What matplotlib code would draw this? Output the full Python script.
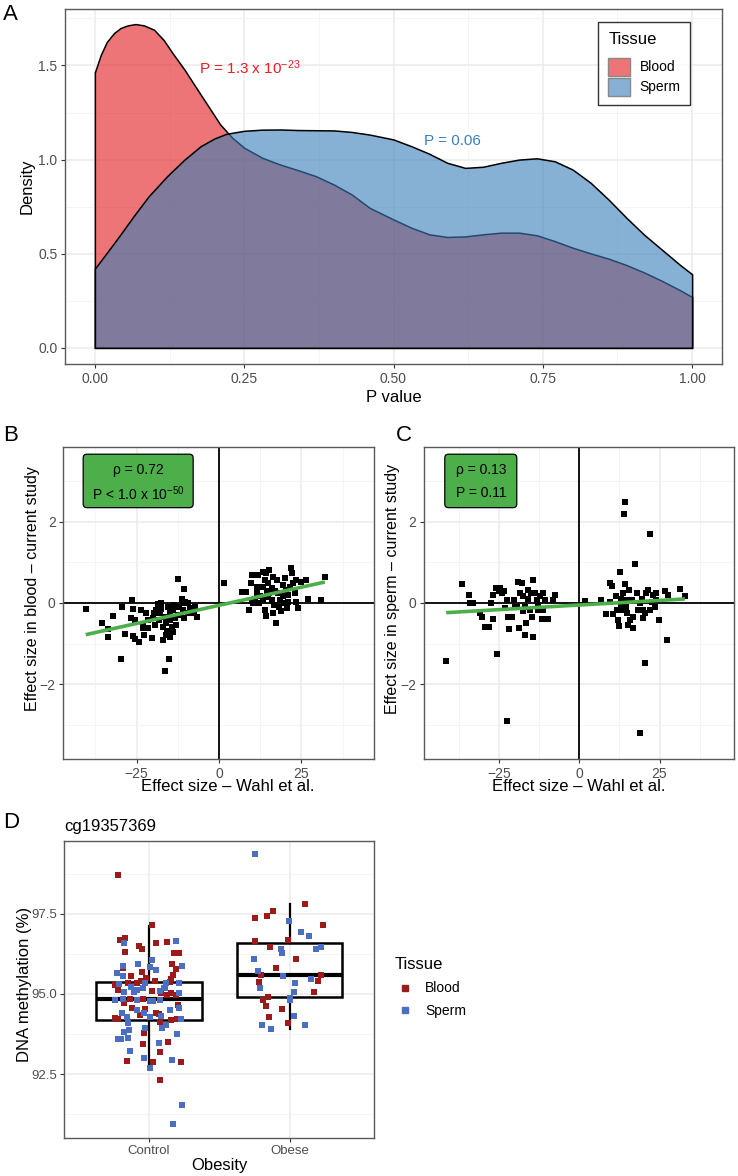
import numpy as np
import matplotlib
matplotlib.use("Agg")
import matplotlib.pyplot as plt
from matplotlib.patches import Patch, FancyBboxPatch
from matplotlib.lines import Line2D
from matplotlib.ticker import MultipleLocator, FixedLocator

plt.rcParams['font.family'] = ['Liberation Sans', 'DejaVu Sans']
plt.rcParams['mathtext.fontset'] = 'custom'
plt.rcParams['mathtext.rm'] = 'Liberation Sans'
plt.rcParams['mathtext.it'] = 'Liberation Sans:italic'
plt.rcParams['mathtext.default'] = 'regular'

# ---------------- Panel A: density curves ----------------
blood_x = [0.00, 0.01, 0.02, 0.032, 0.043, 0.055, 0.068, 0.082, 0.099, 0.115, 0.13, 0.15,
           0.17, 0.19, 0.21, 0.23, 0.25, 0.28, 0.31, 0.34, 0.37, 0.40, 0.43, 0.46, 0.50,
           0.53, 0.56, 0.59, 0.62, 0.65, 0.68, 0.71, 0.74, 0.77, 0.80, 0.83, 0.86, 0.89,
           0.92, 0.95, 0.98, 1.00]
blood_density = [1.463, 1.557, 1.625, 1.672, 1.699, 1.713, 1.72, 1.713, 1.69, 1.636, 1.566,
                 1.478, 1.38, 1.283, 1.186, 1.116, 1.063, 1.01, 0.974, 0.944, 0.912, 0.868,
                 0.815, 0.744, 0.682, 0.638, 0.603, 0.589, 0.592, 0.603, 0.612, 0.612, 0.598,
                 0.567, 0.532, 0.502, 0.474, 0.44, 0.40, 0.355, 0.306, 0.27]
sperm_x = [0.00, 0.02, 0.04, 0.065, 0.09, 0.121, 0.15, 0.177, 0.20, 0.22, 0.25, 0.28, 0.31,
           0.34, 0.37, 0.40, 0.43, 0.46, 0.50, 0.53, 0.56, 0.59, 0.62, 0.65, 0.68, 0.71,
           0.74, 0.77, 0.80, 0.83, 0.86, 0.89, 0.92, 0.95, 0.98, 1.00]
sperm_density = [0.421, 0.505, 0.59, 0.70, 0.805, 0.912, 1.0, 1.071, 1.112, 1.137, 1.153,
                 1.159, 1.16, 1.157, 1.156, 1.155, 1.147, 1.133, 1.107, 1.071, 1.031, 0.983,
                 0.956, 0.962, 0.983, 1.0, 1.007, 0.991, 0.947, 0.877, 0.788, 0.691, 0.60,
                 0.52, 0.44, 0.391]
tissues = ['Blood', 'Sperm']
pval_blood_label = r'P = 1.3 x 10$^{-23}$'
pval_sperm_label = 'P = 0.06'

# ---------------- Panel B: blood effect sizes ----------------
B_x = [-40.4, -35.6, -32.2, -33.5, -33.5, -29.7, -29.4, -26.5, -26.8, -28.5, -26.0, -25.5, -26.0,
       -25.5, -24.2, -23.5, -22.2, -22.9, -22.6, -21.6, -20.4, -21.5, -20.0, -19.8, -19.0, -18.5,
       -17.7, -18.0, -18.2, -16.9, -16.1, -16.4, -15.4, -14.8, -14.8, -14.3, -14.8, -13.8, -13.3,
       -13.1, -15.1, -16.4, -12.3, -10.6, -11.3, -11.0, -10.3, -11.0, -10.6, -8.8, -7.3, -6.8,
       -7.6, -9.3, -17.0, -12.5, -13.5, -15.8, -17.5, -12.0, -9.5, -14.0, -19.5, -23.0, -16.0,
       1.6, 7.1, 8.2, 9.9, 9.6, 9.2, 9.9, 10.4, 11.9, 11.6, 11.4, 12.4, 13.4, 14.2, 15.3, 13.9,
       14.9, 13.4, 13.4, 13.9, 14.4, 15.3, 16.0, 16.0, 16.3, 16.5, 17.3, 17.5, 18.0, 18.3, 18.5,
       19.3, 19.5, 20.0, 20.3, 20.5, 21.0, 21.5, 21.9, 22.1, 22.5, 23.0, 23.5, 24.0, 23.3, 25.0,
       26.4, 27.1, 30.8, 32.1, 12.0, 15.0, 17.0, 18.8, 19.8, 21.0, 11.0, 16.8, 14.5]
B_y = [-0.14, -0.48, -0.33, -0.65, -0.84, -1.37, -0.11, 0.07, -0.36, -0.75, -0.14, -0.42, -0.81,
       -0.89, -0.97, -0.17, -0.25, -0.62, -0.79, -0.62, -0.85, -0.42, -0.38, -0.25, -0.17, -0.02,
       0.01, -0.25, -0.42, -0.58, -0.79, -0.34, -0.11, -0.25, -0.42, -0.58, -0.83, -0.17, -0.38,
       -0.54, -1.37, -1.66, 0.59, 0.34, 0.09, 0.01, 0.03, -0.16, -0.38, -0.13, -0.09, -0.35,
       -0.25, -0.25, -0.91, -0.30, -0.05, -0.70, -0.15, -0.10, 0.0, -0.72, -0.55, -0.55, -0.50,
       0.48, 0.26, 0.28, 0.69, 0.50, -0.17, 0.06, -0.01, 0.69, 0.40, 0.24, 0.16, 0.77, 0.73, 0.80,
       0.57, 0.48, 0.40, 0.07, -0.16, -0.32, 0.24, 0.36, 0.07, 0.65, -0.25, -0.50, 0.57, 0.24,
       -0.09, 0.07, 0.44, 0.16, 0.61, 0.32, -0.13, 0.03, 0.40, 0.85, 0.73, 0.48, 0.24, 0.03, -0.13,
       0.57, 0.52, 0.57, 0.11, 0.07, 0.65, 0.0, 0.15, 0.30, -0.20, 0.0, 0.20, 0.10, -0.05, 0.30]
B_rho_label = 'ρ = 0.72'
B_p_label = r'P < 1.0 x 10$^{-50}$'

# ---------------- Panel C: sperm effect sizes ----------------
C_x = [-41.5, -36.7, -34.5, -34.1, -33.0, -30.9, -30.4, -29.4, -28.0, -26.8, -26.8, -25.9, -24.7,
       -24.2, -25.8, -22.6, -23.2, -22.4, -22.1, -21.1, -21.8, -20.5, -19.5, -19.0, -18.0, -18.5,
       -18.7, -17.4, -16.9, -16.6, -16.9, -15.9, -15.4, -14.3, -14.3, -14.8, -13.8, -13.3, -12.8,
       -12.3, -11.7, -11.2, -10.7, -9.7, -8.1, -7.6, -15.0, -16.0, -11.2, -25.0, -20.0, -17.5,
       -13.0, -27.5, -23.5,
       1.8, 6.9, 8.2, 9.6, 10.1, 9.6, 10.6, 11.4, 12.1, 12.4, 12.7, 13.7, 14.2, 14.2, 14.0, 14.9,
       14.5, 15.0, 15.6, 15.8, 16.3, 16.8, 17.3, 17.9, 18.4, 18.9, 19.4, 19.9, 20.4, 20.9, 21.5,
       22.0, 22.0, 22.5, 23.1, 23.9, 24.7, 26.7, 27.2, 27.7, 31.4, 32.9, 13.7, 15.3, 16.8, 18.9,
       19.7, 20.4, 23.5, 24.0, 12.9, 13.1, 11.9]
C_y = [-1.43, 0.47, 0.20, -0.01, 0.0, -0.25, -0.34, -0.58, -0.58, -0.40, 0.20, 0.36, 0.36,
       0.24, -1.25, -2.89, -0.13, 0.07, -0.34, -0.35, -0.65, 0.07, -0.09, 0.51, 0.50, 0.24,
       -0.62, 0.16, -0.09, -0.50, -0.79, 0.11, -0.17, 0.57, -0.83, -0.34, 0.24, 0.07, -0.17,
       0.16, -0.40, 0.24, 0.07, -0.40, 0.07, 0.20, 0.24, 0.32, -0.17, 0.30, -0.10, -0.20,
       -0.05, 0.0, 0.30,
       0.06, 0.07, -0.28, 0.50, 0.42, 0.03, -0.27, 0.16, -0.42, -0.57, 0.75, 0.24, 0.47, 2.47,
       2.19, 0.07, -0.09, -0.25, 0.32, -0.42, 0.07, -0.62, 0.96, 0.24, -0.17, -3.20, 0.11, -0.38,
       -1.48, 0.24, 0.32, 1.70, -0.17, 0.03, 0.20, 0.24, -0.42, 0.30, -0.91, 0.20, 0.34, 0.17,
       -0.17, -0.54, -0.34, 0.0, -0.17, -0.25, -0.09, 0.07, 0.11, -0.09, -0.17]
C_rho_label = 'ρ = 0.13'
C_p_label = 'P = 0.11'

# ---------------- Panel D: cg19357369 methylation ----------------
groups = ['Control', 'Obese']
ctrl_blood_dx = [-0.222, 0.026, -0.206, -0.168, -0.166, -0.069, -0.045, 0.05, 0.132, 0.177, 0.213,
                 0.165, 0.196, 0.175, 0.161, 0.149, -0.123, -0.182, -0.047, -0.241, -0.217, -0.149,
                 -0.087, -0.052, -0.017, 0.047, 0.085, 0.132, 0.161, 0.194, -0.135, -0.04, 0.026,
                 -0.177, -0.116, -0.061, -0.241, -0.217, -0.024, -0.031, 0.052, 0.073, 0.083,
                 0.156, 0.208, 0.203, -0.04, 0.137, 0.08, -0.156, 0.031, 0.232, 0.078]
ctrl_blood_y = [98.73, 97.15, 96.69, 96.76, 96.31, 96.51, 96.40, 96.59, 96.64, 96.29, 96.29,
                95.93, 95.78, 95.59, 95.47, 95.39, 95.56, 95.80, 95.70, 95.28, 95.13, 95.35,
                95.35, 95.41, 95.49, 95.42, 95.02, 94.97, 95.02, 94.97, 94.83, 94.83, 95.10,
                94.71, 94.55, 94.34, 94.26, 94.23, 94.52, 93.77, 94.40, 94.38, 94.14,
                94.19, 94.66, 94.21, 93.44, 93.51, 93.20, 92.91, 92.86, 92.86, 92.31]
ctrl_sperm_dx = [-0.175, 0.196, -0.182, -0.076, 0.026, 0.054, 0.012, 0.236, -0.225, -0.182, -0.213,
                 -0.173, -0.125, -0.104, -0.087, -0.04, -0.026, -0.241, -0.182, -0.083, 0.012,
                 0.031, 0.083, 0.106, 0.125, 0.215, 0.215, 0.078, 0.113, -0.189, -0.154, -0.147,
                 -0.142, -0.177, -0.217, -0.194, -0.151, -0.087, -0.033, -0.024, 0.012, 0.09,
                 0.097, 0.12, 0.149, 0.213, 0.232, 0.203, -0.13, -0.035, 0.012, 0.073, 0.165,
                 0.236, 0.173]
ctrl_sperm_y = [96.60, 96.66, 95.88, 95.93, 96.07, 95.75, 95.85, 95.89, 95.67, 95.56, 95.31,
                95.06, 95.23, 95.07, 95.13, 95.18, 95.33, 94.81, 94.84, 94.81, 94.79,
                94.79, 95.10, 95.18, 95.33, 95.33, 95.02, 94.81, 95.18, 94.40, 94.27, 94.08,
                93.88, 93.81, 93.58, 93.58, 93.64, 94.50, 94.40, 93.93, 94.29, 94.31,
                93.93, 94.03, 94.50, 94.57, 94.21, 93.75, 93.23, 92.99, 92.68, 93.46, 92.94,
                91.53, 90.93]
obese_blood_dx = [-0.118, -0.161, -0.243, 0.109, 0.236, -0.248, -0.009, -0.142, 0.047, -0.097,
                  -0.206, -0.217, 0.225, 0.203, 0.175, -0.154, -0.189, -0.165, -0.052, -0.149,
                  -0.012]
obese_blood_y = [97.60, 97.44, 97.36, 97.81, 97.17, 96.66, 96.69, 96.46, 96.08, 95.80,
                 95.59, 95.38, 95.59, 95.41, 95.05, 94.92, 94.81, 94.64, 94.54, 94.29,
                 94.09]
obese_sperm_dx = [-0.248, -0.005, 0.083, 0.137, -0.059, -0.057, 0.191, 0.227, -0.253, -0.225,
                  -0.047, 0.151, 0.038, -0.213, 0.035, 0.0, 0.005, 0.035, -0.196, -0.132, 0.113]
obese_sperm_y = [99.38, 97.28, 96.93, 96.80, 96.40, 96.29, 96.40, 96.46, 96.08, 95.72,
                 95.57, 95.47, 95.35, 95.20, 95.06, 94.89, 94.81, 94.31, 94.02, 93.90, 94.02]
# box statistics: q1, median, q3, whisker low, whisker high
box_q1 = [94.20, 94.90]
box_med = [94.84, 95.59]
box_q3 = [95.38, 96.60]
box_wlo = [92.71, 93.90]
box_whi = [97.13, 97.80]

# ---------------- styling ----------------
W, H = 738, 1176
fig = plt.figure(figsize=(W / 100, H / 100), dpi=100)

def add_ax(l, r, t, b):
    return fig.add_axes([l / W, 1 - b / H, (r - l) / W, (b - t) / H])

BORDER = '#5a5a5a'
TICKLAB = '#4D4D4D'

def style(ax, fs=10):
    ax.set_facecolor('white')
    ax.grid(which='major', color='#EBEBEB', lw=1.1)
    ax.grid(which='minor', color='#F3F3F3', lw=0.6)
    ax.set_axisbelow(True)
    for s in ax.spines.values():
        s.set_color(BORDER)
        s.set_linewidth(1.0)
    ax.tick_params(which='major', length=3, width=0.8, color='#333333', labelsize=fs,
                   labelcolor=TICKLAB, pad=2.5)
    ax.tick_params(which='minor', length=0)

blood_rgba = (228 / 255, 26 / 255, 28 / 255, 0.6)
sperm_rgba = (55 / 255, 126 / 255, 184 / 255, 0.6)

# ---- Panel A ----
axA = add_ax(65, 722, 9, 364)
style(axA)
axA.fill_between(blood_x, 0, blood_density, facecolor=blood_rgba, edgecolor='black', lw=1.1)
axA.fill_between(sperm_x, 0, sperm_density, facecolor=sperm_rgba, edgecolor='black', lw=1.1)
axA.set_xlim(-0.05, 1.05)
axA.set_ylim(-0.0857, 1.80)
axA.xaxis.set_major_locator(FixedLocator([0, 0.25, 0.5, 0.75, 1.0]))
axA.set_xticklabels(['0.00', '0.25', '0.50', '0.75', '1.00'])
axA.xaxis.set_minor_locator(MultipleLocator(0.125))
axA.yaxis.set_major_locator(FixedLocator([0, 0.5, 1.0, 1.5]))
axA.set_yticklabels(['0.0', '0.5', '1.0', '1.5'])
axA.yaxis.set_minor_locator(MultipleLocator(0.25))
axA.set_xlabel('P value', fontsize=12)
axA.set_ylabel('Density', fontsize=12)
axA.yaxis.set_label_coords(-0.046, 0.5)
axA.xaxis.set_label_coords(0.5, -0.072)
axA.text(0.175, 1.49, pval_blood_label, color='#EE1C24', fontsize=11, va='center', ha='left')
axA.text(0.551, 1.098, pval_sperm_label, color='#3A7FC1', fontsize=11, va='center', ha='left')
legA = axA.legend(handles=[Patch(facecolor=blood_rgba, edgecolor='#888888', label=tissues[0]),
                           Patch(facecolor=sperm_rgba, edgecolor='#888888', label=tissues[1])],
                  title='Tissue', loc='upper right', bbox_to_anchor=(0.952, 0.963),
                  borderaxespad=0, fontsize=10, title_fontsize=12, frameon=True,
                  fancybox=False, edgecolor='black', handlelength=1.6, handleheight=1.6,
                  labelspacing=0.15, borderpad=0.7, handletextpad=0.67, alignment='left')
legA.get_frame().set_linewidth(1.0)
legA._legend_box.sep = 8

# ---- Panels B & C ----
def scatter_panel(ax, xs, ys, ylabel, rho_lab, p_lab, box_x0, box_x1):
    style(ax)
    ax.axhline(0, color='black', lw=1.3, zorder=1.5)
    ax.axvline(0, color='black', lw=1.3, zorder=1.5)
    ax.scatter(xs, ys, marker='s', s=14, color='black', linewidths=0, zorder=3)
    coef = np.polyfit(xs, ys, 1)
    xl = np.array([min(xs), max(xs)])
    ax.plot(xl, np.polyval(coef, xl), color='#4DAF4A', lw=2.6, zorder=4, solid_capstyle='butt')
    ax.set_ylim(-3.84, 3.84)
    ax.xaxis.set_major_locator(FixedLocator([-25, 0, 25]))
    ax.xaxis.set_minor_locator(FixedLocator([-37.5, -12.5, 12.5, 37.5]))
    ax.yaxis.set_major_locator(FixedLocator([-2, 0, 2]))
    ax.set_yticklabels(['\u22122', '0', '2'])
    ax.set_xticklabels(['\u221225', '0', '25'])
    ax.yaxis.set_minor_locator(FixedLocator([-3, -1, 1, 3]))
    ax.set_xlabel('Effect size \u2013 Wahl et al.', fontsize=12)
    ax.set_ylabel(ylabel, fontsize=11.5)
    bx = FancyBboxPatch((box_x0, 0.805), box_x1 - box_x0, 0.171,
                        boxstyle='round,pad=0,rounding_size=0.012', transform=ax.transAxes,
                        facecolor='#4DAF4A', edgecolor='black', lw=0.9, zorder=5)
    ax.add_patch(bx)
    cx = (box_x0 + box_x1) / 2
    ax.text(cx, 0.925, rho_lab, transform=ax.transAxes, ha='center', va='center',
            fontsize=10, zorder=6)
    ax.text(cx, 0.851, p_lab, transform=ax.transAxes, ha='center', va='center',
            fontsize=10, zorder=6)

axB = add_ax(63.3, 374, 446.7, 759.3)
scatter_panel(axB, B_x, B_y, 'Effect size in blood \u2013 current study', B_rho_label,
              B_p_label, 0.064, 0.418)
axB.set_xlim(-47.2, 47.0)
axB.yaxis.set_label_coords(-0.075, 0.545)
axB.xaxis.set_label_coords(0.53, -0.062)

axC = add_ax(424, 734.3, 446.7, 759.3)
scatter_panel(axC, C_x, C_y, 'Effect size in sperm \u2013 current study', C_rho_label,
              C_p_label, 0.067, 0.299)
axC.set_xlim(-48.4, 48.3)
axC.yaxis.set_label_coords(-0.078, 0.545)
axC.xaxis.set_label_coords(0.5, -0.062)

# ---- Panel D ----
axD = add_ax(64.3, 374, 841, 1137.7)
style(axD, fs=9.5)
stats = [dict(q1=box_q1[i], med=box_med[i], q3=box_q3[i], whislo=box_wlo[i],
              whishi=box_whi[i], fliers=[]) for i in range(2)]
axD.bxp(stats, positions=[1, 2], widths=0.75, showfliers=False, showcaps=False,
        patch_artist=True,
        boxprops=dict(facecolor='none', edgecolor='black', lw=1.8),
        medianprops=dict(color='black', lw=3.0, solid_capstyle='butt'),
        whiskerprops=dict(color='black', lw=1.6), zorder=2)
RED = '#9C1A1A'
BLUE = '#4A6EC2'
axD.scatter(1 + np.array(ctrl_blood_dx), ctrl_blood_y, marker='s', s=17, color=RED,
            linewidths=0, zorder=3)
axD.scatter(1 + np.array(ctrl_sperm_dx), ctrl_sperm_y, marker='s', s=17, color=BLUE,
            linewidths=0, zorder=3)
axD.scatter(2 + np.array(obese_blood_dx), obese_blood_y, marker='s', s=17, color=RED,
            linewidths=0, zorder=3)
axD.scatter(2 + np.array(obese_sperm_dx), obese_sperm_y, marker='s', s=17, color=BLUE,
            linewidths=0, zorder=3)
axD.set_xlim(0.4, 2.6)
axD.set_ylim(90.51, 99.78)
axD.xaxis.set_major_locator(FixedLocator([1, 2]))
axD.set_xticklabels(groups)
axD.yaxis.set_major_locator(FixedLocator([92.5, 95.0, 97.5]))
axD.set_yticklabels(['92.5', '95.0', '97.5'])
axD.yaxis.set_minor_locator(FixedLocator([91.25, 93.75, 96.25, 98.75]))
axD.set_xlabel('Obesity', fontsize=12)
axD.set_ylabel('DNA methylation (%)', fontsize=12)
axD.xaxis.set_label_coords(0.5, -0.068)
axD.yaxis.set_label_coords(-0.104, 0.517)
axD.set_title('cg19357369', loc='left', fontsize=12, pad=7)
legD = axD.legend(handles=[Line2D([], [], marker='s', ls='none', color=RED, markersize=4,
                                  label=tissues[0]),
                           Line2D([], [], marker='s', ls='none', color=BLUE, markersize=4,
                                  label=tissues[1])],
                  title='Tissue', loc='upper left', bbox_to_anchor=(1.068, 0.61),
                  frameon=False, fontsize=10, title_fontsize=12, borderaxespad=0,
                  borderpad=0, handlelength=1.5, handletextpad=0.65, labelspacing=0.6,
                  alignment='left')
legD._legend_box.sep = 7

# panel letters
for lab, x, y in [('A', 3, 15), ('B', 3, 435), ('C', 396, 435), ('D', 3, 822)]:
    fig.text(x / W, 1 - y / H, lab, fontsize=16, ha='left', va='center')

fig.savefig('out.png', dpi=100)
